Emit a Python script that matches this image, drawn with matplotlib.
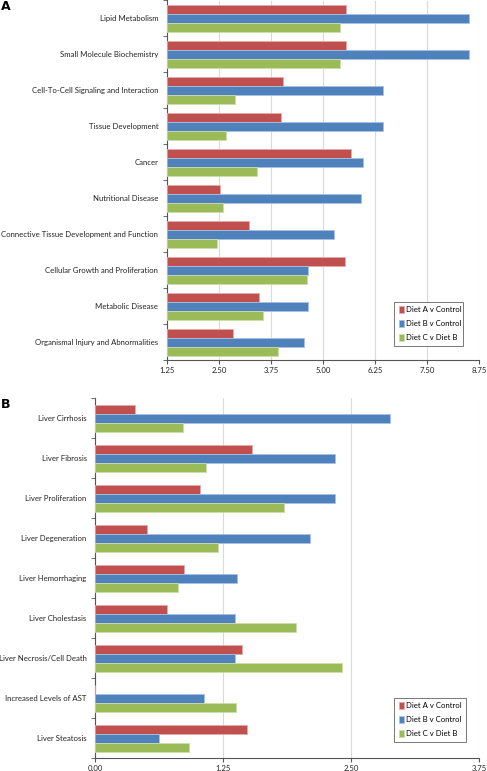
import matplotlib.pyplot as plt
import numpy as np

plt.rcParams['font.family'] = ['Lato', 'DejaVu Sans']

series_names = ['Diet A v Control', 'Diet B v Control', 'Diet C v Diet B']
colors = ['#C0504D', '#4F81BD', '#9BBB59']
edges = ['#E6A9A7', '#A9C1E0', '#CCDDAA']

# Panel A
cats_a = ['Lipid Metabolism', 'Small Molecule Biochemistry',
          'Cell-To-Cell Signaling and Interaction', 'Tissue Development',
          'Cancer', 'Nutritional Disease',
          'Connective Tissue Development and Function',
          'Cellular Growth and Proliferation', 'Metabolic Disease',
          'Organismal Injury and Abnormalities']
diet_a_a = [5.54, 5.54, 4.05, 3.99, 5.67, 2.54, 3.23, 5.52, 3.47, 2.83]
diet_b_a = [8.50, 8.50, 6.43, 6.43, 5.95, 5.91, 5.27, 4.65, 4.65, 4.54]
diet_c_a = [5.40, 5.40, 2.90, 2.68, 3.42, 2.61, 2.46, 4.61, 3.55, 3.92]
ticks_a = [1.25, 2.50, 3.75, 5.00, 6.25, 7.50, 8.75]

# Panel B
cats_b = ['Liver Cirrhosis', 'Liver Fibrosis', 'Liver Proliferation',
          'Liver Degeneration', 'Liver Hemorrhaging', 'Liver Cholestasis',
          'Liver Necrosis/Cell Death', 'Increased Levels of AST',
          'Liver Steatosis']
diet_a_b = [0.39, 1.53, 1.02, 0.51, 0.87, 0.70, 1.43, 0.0, 1.48]
diet_b_b = [2.88, 2.34, 2.34, 2.10, 1.39, 1.37, 1.37, 1.06, 0.62]
diet_c_b = [0.86, 1.08, 1.84, 1.20, 0.81, 1.96, 2.41, 1.38, 0.92]
ticks_b = [0.00, 1.25, 2.50, 3.75]

W, H = 487, 771
FS = 5.6
fig = plt.figure(figsize=(W / 100, H / 100), dpi=100)


def panel(rect, cats, vals, ticks, barh, legend_rect):
    ax = fig.add_axes(rect)
    n = len(cats)
    y = np.arange(n)
    left = ticks[0]
    for i, v in enumerate(vals):
        v = np.array(v)
        ax.barh(y + (i - 1) * barh, v - left, left=left, height=barh,
                color=colors[i], edgecolor=edges[i], linewidth=0.6,
                label=series_names[i], zorder=3)
    ax.set_xlim(ticks[0], ticks[-1])
    ax.set_ylim(n - 0.5, -0.5)
    ax.set_xticks(ticks)
    ax.set_xticklabels(['%.2f' % t for t in ticks], fontsize=FS, color='#222222')
    ax.set_yticks(y)
    ax.set_yticklabels(cats, fontsize=FS, color='#222222')
    ax.set_yticks(np.arange(n + 1) - 0.5, minor=True)
    ax.tick_params(axis='y', which='major', length=0, pad=6)
    ax.tick_params(axis='y', which='minor', length=3, color='#555555', direction='out')
    ax.tick_params(axis='x', length=3, color='#555555', pad=2)
    ax.grid(axis='x', color='#D9D9D9', linewidth=0.8, zorder=0)
    for s in ['top', 'right']:
        ax.spines[s].set_visible(False)
    for s in ['left', 'bottom']:
        ax.spines[s].set_color('#555555')
        ax.spines[s].set_linewidth(0.8)
    leg = ax.legend(loc='lower left', bbox_to_anchor=legend_rect,
                    bbox_transform=fig.transFigure, mode='expand',
                    fontsize=FS, frameon=True, fancybox=False,
                    handlelength=0.7, handleheight=0.9, handletextpad=0.3,
                    labelspacing=0.9, borderpad=0.6, borderaxespad=0)
    leg.get_frame().set_edgecolor('#555555')
    leg.get_frame().set_linewidth(0.7)
    return ax


def fr(x0, y0, x1, y1):
    return [x0 / W, 1 - y1 / H, (x1 - x0) / W, (y1 - y0) / H]


panel(fr(166.7, 0.5, 479.3, 360), cats_a, [diet_a_a, diet_b_a, diet_c_a],
      ticks_a, 0.25, (394 / W, 1 - 346 / H, 69 / W, 47 / H))
panel(fr(95, 398.3, 479.3, 758.3), cats_b, [diet_a_b, diet_b_b, diet_c_b],
      ticks_b, 0.222, (394 / W, 1 - 742 / H, 72 / W, 44 / H))

fig.text(1 / W, 1 - 6 / H, 'A', fontsize=9, fontweight='bold', va='center',
         family='DejaVu Sans')
fig.text(1 / W, 1 - 404 / H, 'B', fontsize=9, fontweight='bold', va='center',
         family='DejaVu Sans')

fig.savefig('out.png', dpi=100)
